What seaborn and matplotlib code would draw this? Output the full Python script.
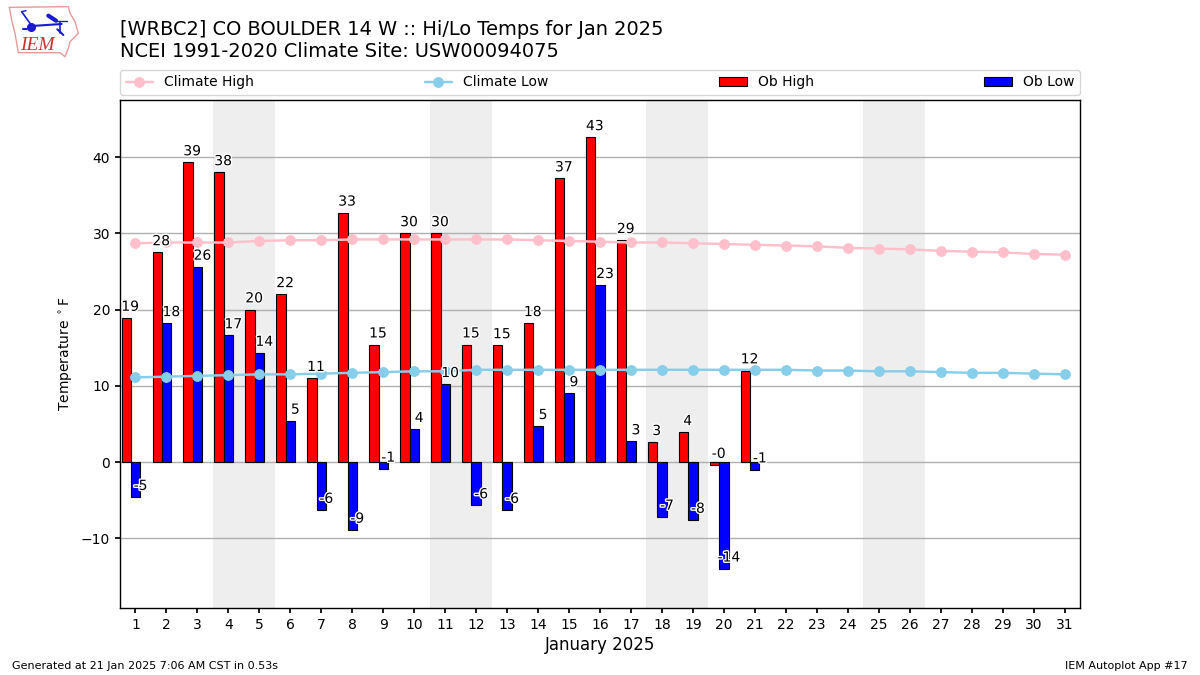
import numpy as np
import pandas as pd
import matplotlib
matplotlib.use("Agg")
import matplotlib.pyplot as plt
import matplotlib.patheffects as pe
import seaborn as sns

# ------------------ Data ------------------
days = list(range(1, 32))
ob_days = list(range(1, 22))
ob_high = [18.9, 27.5, 39.3, 38.0, 20.0, 22.0, 11.0, 32.7, 15.4, 30.0, 30.0,
           15.4, 15.3, 18.2, 37.2, 42.6, 29.1, 2.6, 3.9, -0.4, 12.0]
ob_low = [-4.6, 18.2, 25.6, 16.6, 14.3, 5.4, -6.3, -8.9, -0.9, 4.3, 10.2,
          -5.7, -6.3, 4.7, 9.0, 23.2, 2.7, -7.2, -7.6, -14.0, -1.0]
climate_high = [28.7, 28.8, 28.8, 28.8, 29.0, 29.1, 29.1, 29.2, 29.2, 29.2, 29.2,
                29.2, 29.2, 29.1, 29.0, 28.9, 28.8, 28.8, 28.7, 28.6, 28.5, 28.4,
                28.3, 28.1, 28.0, 27.9, 27.7, 27.6, 27.5, 27.3, 27.2]
climate_low = [11.1, 11.2, 11.3, 11.4, 11.5, 11.5, 11.6, 11.7, 11.8, 11.9, 11.9,
               12.1, 12.1, 12.1, 12.1, 12.1, 12.1, 12.1, 12.1, 12.1, 12.1, 12.1,
               12.0, 12.0, 11.9, 11.9, 11.8, 11.7, 11.7, 11.6, 11.5]
weekends = [(3.5, 5.5), (10.5, 12.5), (17.5, 19.5), (24.5, 26.5)]
title_lines = "[WRBC2] CO BOULDER 14 W :: Hi/Lo Temps for Jan 2025\nNCEI 1991-2020 Climate Site: USW00094075"

# ------------------ Style ------------------
sns.set_theme(style="ticks", rc={
    "font.family": "DejaVu Sans",
    "axes.edgecolor": "black",
    "axes.linewidth": 1.0,
    "text.color": "black",
    "axes.labelcolor": "black",
    "xtick.color": "black",
    "ytick.color": "black",
    "xtick.labelsize": 10,
    "ytick.labelsize": 10,
    "xtick.major.size": 3.5,
    "ytick.major.size": 3.5,
    "legend.fontsize": 10,
})

fig = plt.figure(figsize=(12, 6.75), dpi=100)
ax = fig.add_axes([0.1, 0.0993, 0.8, 0.7526])

# ------------------ Weekend shading and grid ------------------
for start, end in weekends:
    ax.axvspan(start, end, color="#eeeeee", lw=0, zorder=0)
ax.set_axisbelow(True)
ax.yaxis.grid(True, color="#b0b0b0", lw=1)

# ------------------ Bars ------------------
high_df = pd.DataFrame({"day": np.array(ob_days) - 0.3, "temp": ob_high})
low_df = pd.DataFrame({"day": np.array(ob_days, dtype=float), "temp": ob_low})
sns.barplot(data=high_df, x="day", y="temp", native_scale=True, width=0.3,
            color="red", saturation=1, edgecolor="black", linewidth=0.8,
            errorbar=None, label="Ob High", ax=ax, zorder=2)
sns.barplot(data=low_df, x="day", y="temp", native_scale=True, width=0.3,
            color="blue", saturation=1, edgecolor="black", linewidth=0.8,
            errorbar=None, label="Ob Low", ax=ax, zorder=2)

# ------------------ Climate lines ------------------
sns.lineplot(x=days, y=climate_high, color="pink", lw=1.75, marker="o", markersize=7,
             markeredgecolor="pink", label="Climate High", ax=ax, zorder=3)
sns.lineplot(x=days, y=climate_low, color="skyblue", lw=1.75, marker="o", markersize=7,
             markeredgecolor="skyblue", label="Climate Low", ax=ax, zorder=3)

# ------------------ Bar labels ------------------
halo = [pe.withStroke(linewidth=2, foreground="white")]
for day, high, low in zip(ob_days, ob_high, ob_low):
    ax.text(day - 0.17, high + 0.55, f"{high:.0f}", ha="center", va="bottom",
            fontsize=10, path_effects=halo, zorder=5)
    ax.text(day + 0.16, low + 0.55, f"{low:.0f}", ha="center", va="bottom",
            fontsize=10, path_effects=halo, zorder=5)

# ------------------ Axes ------------------
ax.set_xlim(0.5, 31.5)
ax.set_ylim(-19.15, 47.5)
ax.set_xticks(days)
ax.set_xticklabels([str(d) for d in days])
ax.set_yticks([-10, 0, 10, 20, 30, 40])
ax.set_xlabel("January 2025", fontsize=12, labelpad=3)
ax.set_ylabel(r"Temperature $^\circ$F", fontsize=10)
for side in ["top", "right", "left", "bottom"]:
    ax.spines[side].set_visible(True)

handles, labels = ax.get_legend_handles_labels()
lookup = dict(zip(labels, handles))
order = ["Climate High", "Climate Low", "Ob High", "Ob Low"]
ax.legend([lookup[k] for k in order], order, ncol=4, mode="expand", loc="lower left",
          bbox_to_anchor=(0, 1.0098, 1, 0.05), borderaxespad=0, frameon=True)

# ------------------ Titles and footer ------------------
fig.text(0.1, 0.909, title_lines, fontsize=13.98, ha="left", va="bottom")
fig.text(0.01, 0.0085, "Generated at 21 Jan 2025 7:06 AM CST in 0.53s", fontsize=8, ha="left")
fig.text(0.99, 0.0085, "IEM Autoplot App #17", fontsize=8, ha="right")

# ------------------ Logo ------------------
logo = fig.add_axes([0, 0, 1, 1], zorder=-1)
logo.set_xlim(0, 1200)
logo.set_ylim(675, 0)
logo.axis("off")
outline = [(28, 22), (205, 20), (210, 40), (225, 65), (235, 100), (210, 125),
           (205, 145), (195, 170), (180, 158), (55, 158), (45, 100), (35, 60), (28, 22)]
pieces = [([(95, 78), (185, 72)], 1.5), ([(65, 35), (90, 70)], 1.2), ([(65, 35), (78, 32)], 1),
          ([(145, 47), (168, 62)], 3), ([(165, 62), (200, 62)], 1), ([(180, 65), (180, 100)], 1.2),
          ([(172, 88), (190, 105)], 1.5), ([(70, 88), (80, 88)], 1.5)]
xy = np.array(outline) / 3
logo.plot(xy[:, 0], xy[:, 1], color="#e79a9a", lw=1)
for piece, width in pieces:
    xy = np.array(piece) / 3
    logo.plot(xy[:, 0], xy[:, 1], color="#1a1ad0", lw=width)
logo.plot([31], [26.5], "o", color="#1a1ad0", ms=5.5)
logo.text(37, 45, "IEM", color="#d03030", fontsize=14, style="italic",
          family="Liberation Serif", ha="center", va="center")

fig.savefig("out.png", dpi=100, facecolor="white")
